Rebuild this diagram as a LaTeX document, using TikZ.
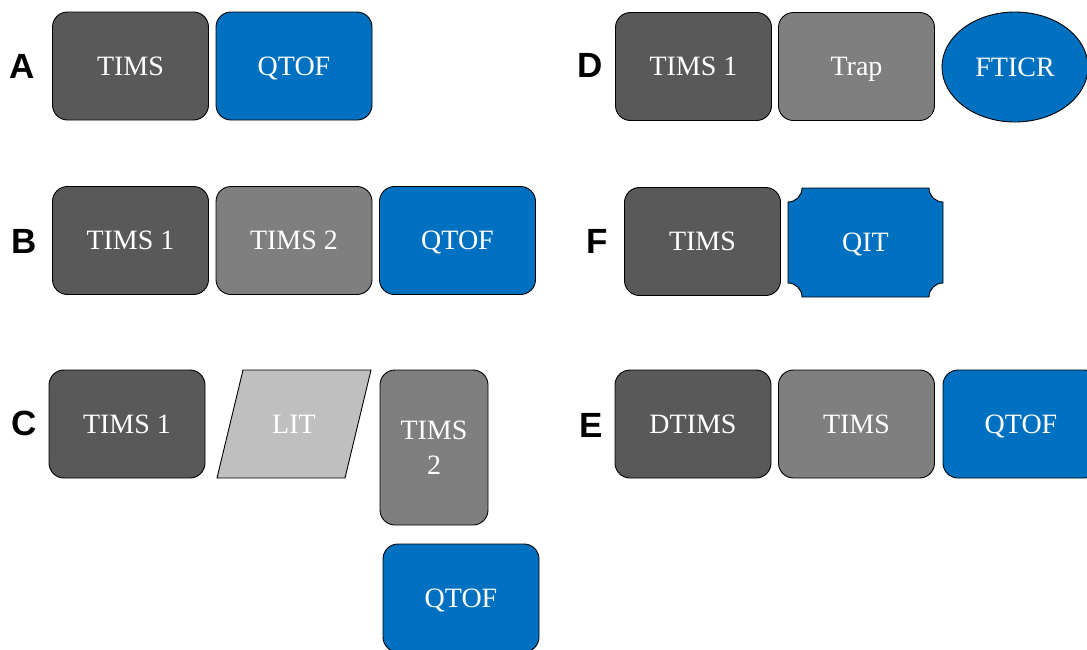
\documentclass[tikz,border=0pt]{standalone}
\usepackage{fontspec}
\setmainfont{Liberation Serif}
\newfontfamily\lblfont{Liberation Sans}
\usetikzlibrary{shapes.geometric}
\definecolor{dgray}{HTML}{595959}
\definecolor{mgray}{HTML}{7F7F7F}
\definecolor{lgray}{HTML}{BFBFBF}
\definecolor{qblue}{HTML}{0070C0}
\tikzset{
  txt/.style={text=white, font=\fontsize{28}{32}\selectfont, inner sep=0pt,
    text height=18.5pt, text depth=0pt},
  box/.style={txt, draw=black, line width=0.9pt, rounded corners=15pt},
  dark/.style={box, fill=dgray, minimum width=156pt, minimum height=108pt},
  mid/.style={box, fill=mgray, minimum width=156pt, minimum height=108pt},
  blue/.style={box, fill=qblue, minimum width=156pt, minimum height=108pt},
  lbl/.style={font=\lblfont\bfseries\fontsize{35}{40}\selectfont, text=black, inner sep=0pt,
    text height=25pt, text depth=0pt}
}
\begin{document}
\begin{tikzpicture}[x=1pt,y=1pt]
\useasboundingbox (0,0) rectangle (1087,-649);
\clip (0,0) rectangle (1087,-649);
\fill[white] (0,0) rectangle (1087,-649);
% A
\node[lbl] (la) at (22,-66) {A};
\node[dark] (a1) at (130.5,-66) {TIMS};
\node[blue] (a2) at (294,-66) {QTOF};
% B
\node[lbl] (lb) at (24,-241) {B};
\node[dark] (b1) at (130.5,-240.5) {TIMS 1};
\node[mid] (b2) at (294,-240.5) {TIMS 2};
\node[blue] (b3) at (457.5,-240.5) {QTOF};
% C
\node[lbl] (lc) at (24,-423) {C};
\node[dark] (c1) at (127,-424) {TIMS 1};
\draw[line width=0.9pt, fill=lgray] (243,-370) -- (371,-370) -- (345,-478) -- (217,-478) -- cycle;
\node[txt] (c2) at (294,-424) {LIT};
\node[mid, minimum width=108pt, minimum height=155pt, align=center,
  text height=, text depth=, font=\fontsize{28}{35}\selectfont] (c3) at (434,-447.5) {TIMS\\2};
\node[blue] (c4) at (461,-598) {QTOF};
% D
\node[lbl] (ld) at (590,-65) {D};
\node[dark] (d1) at (693.5,-66.5) {TIMS 1};
\node[mid] (d2) at (856.5,-66.5) {Trap};
\node[txt, ellipse, draw=black, line width=0.9pt, fill=qblue,
  minimum width=146pt, minimum height=110pt] (d3) at (1015,-67) {FTICR};
% F
\node[lbl] (lf) at (597,-241) {F};
\node[dark] (f1) at (702.5,-241.5) {TIMS};
\draw[line width=0.9pt, fill=qblue] (802,-188) -- (929,-188)
  arc[start angle=180, end angle=270, radius=14] -- (943,-283)
  arc[start angle=90, end angle=180, radius=14] -- (802,-297)
  arc[start angle=0, end angle=90, radius=14] -- (788,-202)
  arc[start angle=270, end angle=360, radius=14] -- cycle;
\node[txt] (f2) at (865.5,-242.5) {QIT};
% E
\node[lbl] (le) at (591,-425) {E};
\node[dark] (e1) at (693,-424) {DTIMS};
\node[mid] (e2) at (856.5,-424) {TIMS};
\node[blue] (e3) at (1021,-424) {QTOF};
\end{tikzpicture}
\end{document}
